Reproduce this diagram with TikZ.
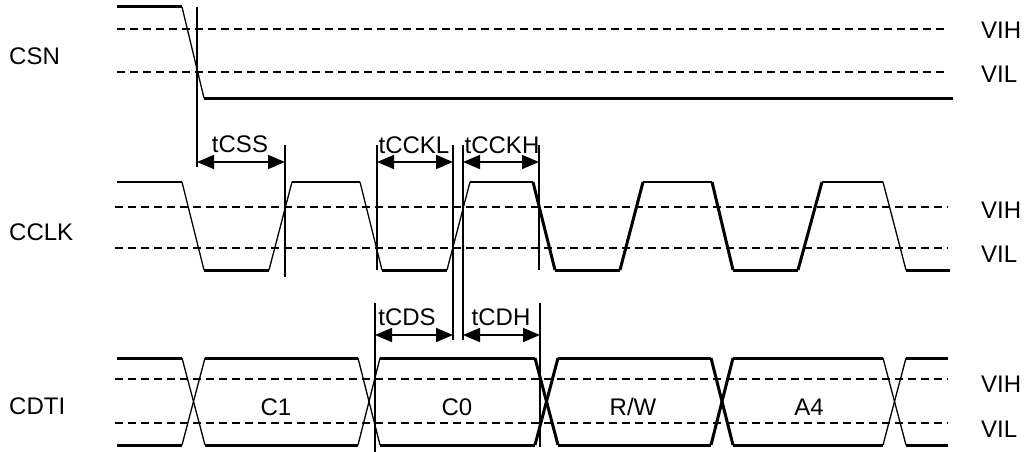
\documentclass[tikz,border=0pt]{standalone}
\usepackage{fontspec}
\setmainfont{Liberation Sans}
\usetikzlibrary{arrows.meta}
\begin{document}
\begin{tikzpicture}[x=1pt,y=-1pt,
  thickw/.style={line width=3pt},
  thinw/.style={line width=1.3pt},
  highw/.style={line width=1.7pt},
  refline/.style={line width=1.3pt, dash pattern=on 8pt off 5pt},
  marker/.style={line width=1.4pt},
  dim/.style={line width=1.6pt, {Triangle[length=17pt,width=14pt]}-{Triangle[length=17pt,width=14pt]}},
  lbl/.style={font=\fontsize{24}{28}\selectfont, inner sep=0pt, anchor=base},
  sig/.style={lbl, anchor=base west},
]
\useasboundingbox (0,0) rectangle (1028,452);

% ---------- reference levels ----------
\draw[refline] (117,29) -- (948,29);
\draw[refline] (117,72) -- (948,72);
\draw[refline] (115,207) -- (948,207);
\draw[refline] (115,248) -- (948,248);
\draw[refline] (115,379) -- (948,379);
\draw[refline] (115,423) -- (948,423);

% ---------- signal names ----------
\node[sig] (csn) at (9,65) {CSN};
\node[sig] (cclk) at (9,240) {CCLK};
\node[sig] (cdti) at (9,414) {CDTI};
\node[sig] (vih1) at (981,39) {VIH};
\node[sig] (vil1) at (981,82) {VIL};
\node[sig] (vih2) at (981,218) {VIH};
\node[sig] (vil2) at (981,262) {VIL};
\node[sig] (vih3) at (981,392) {VIH};
\node[sig] (vil3) at (981,437) {VIL};

% ---------- CSN ----------
\draw[thickw] (117,7) -- (182,7);
\draw[thinw] (182,7) -- (204,98);
\draw[thickw] (204,98) -- (953,98);

% ---------- CCLK ----------
\foreach \a/\b in {117/182, 292/360, 470/533, 643/712, 822/883}
  \draw[highw] (\a,182) -- (\b,182);
\foreach \a/\b in {204/269, 382/447, 555/620, 733/798, 906/950}
  \draw[thickw] (\a,270) -- (\b,270);
\draw[thinw] (182,182) -- (204,270);
\draw[thinw] (269,270) -- (292,182);
\draw[thinw] (360,182) -- (382,270);
\draw[thinw] (447,270) -- (470,182);
\draw[thinw] (883,182) -- (906,270);
\draw[thickw] (533,182) -- (555,270);
\draw[thickw] (620,270) -- (643,182);
\draw[thickw] (712,182) -- (733,270);
\draw[thickw] (798,270) -- (822,182);

% ---------- CDTI ----------
\foreach \a/\b in {117/182, 205/358, 380/535, 558/711, 733/883, 906/948}{
  \draw[thickw] (\a,358) -- (\b,358);
  \draw[thickw] (\a,445) -- (\b,445);
}
\foreach \a/\b in {182/205, 358/380, 883/906}{
  \draw[thinw] (\a,358) -- (\b,445);
  \draw[thinw] (\a,445) -- (\b,358);
}
\foreach \a/\b in {535/558, 711/733}{
  \draw[thickw] (\a,358) -- (\b,445);
  \draw[thickw] (\a,445) -- (\b,358);
}
\node[lbl] (c1) at (276,415) {C1};
\node[lbl] (c0) at (457,415) {C0};
\node[lbl] (rw) at (633,415) {R/W};
\node[lbl] (a4) at (809,415) {A4};

% ---------- timing markers ----------
\coordinate (m1t) at (197,7);   \coordinate (m1b) at (197,167);
\coordinate (m2t) at (285,145); \coordinate (m2b) at (285,277);
\coordinate (m3t) at (377,145); \coordinate (m3b) at (377,270);
\coordinate (m4t) at (453,145); \coordinate (m4b) at (453,340);
\coordinate (m5t) at (463,145); \coordinate (m5b) at (463,340);
\coordinate (m6t) at (539,145); \coordinate (m6b) at (539,270);
\coordinate (m7t) at (375,303); \coordinate (m7b) at (375,452);
\coordinate (m8t) at (540,303); \coordinate (m8b) at (540,447);
\foreach \m in {1,...,8}
  \draw[marker] (m\m t) -- (m\m b);

% ---------- dimension arrows ----------
\coordinate (a1) at (197,162); \coordinate (a2) at (285,162);
\coordinate (a3) at (377,162); \coordinate (a4p) at (453,162);
\coordinate (a5) at (463,162); \coordinate (a6) at (539,162);
\coordinate (b1) at (375,335); \coordinate (b2) at (453,335);
\coordinate (b3) at (463,335); \coordinate (b4) at (540,335);
\draw[dim] (a1) -- (a2);
\draw[dim] (a3) -- (a4p);
\draw[dim] (a5) -- (a6);
\draw[dim] (b1) -- (b2);
\draw[dim] (b3) -- (b4);
\node[lbl] (tcss) at (240,152) {tCSS};
\node[lbl] (tcckl) at (414,153) {tCCKL};
\node[lbl] (tcckh) at (502,153) {tCCKH};
\node[lbl] (tcds) at (407,325) {tCDS};
\node[lbl] (tcdh) at (501,325) {tCDH};
\end{tikzpicture}
\end{document}
